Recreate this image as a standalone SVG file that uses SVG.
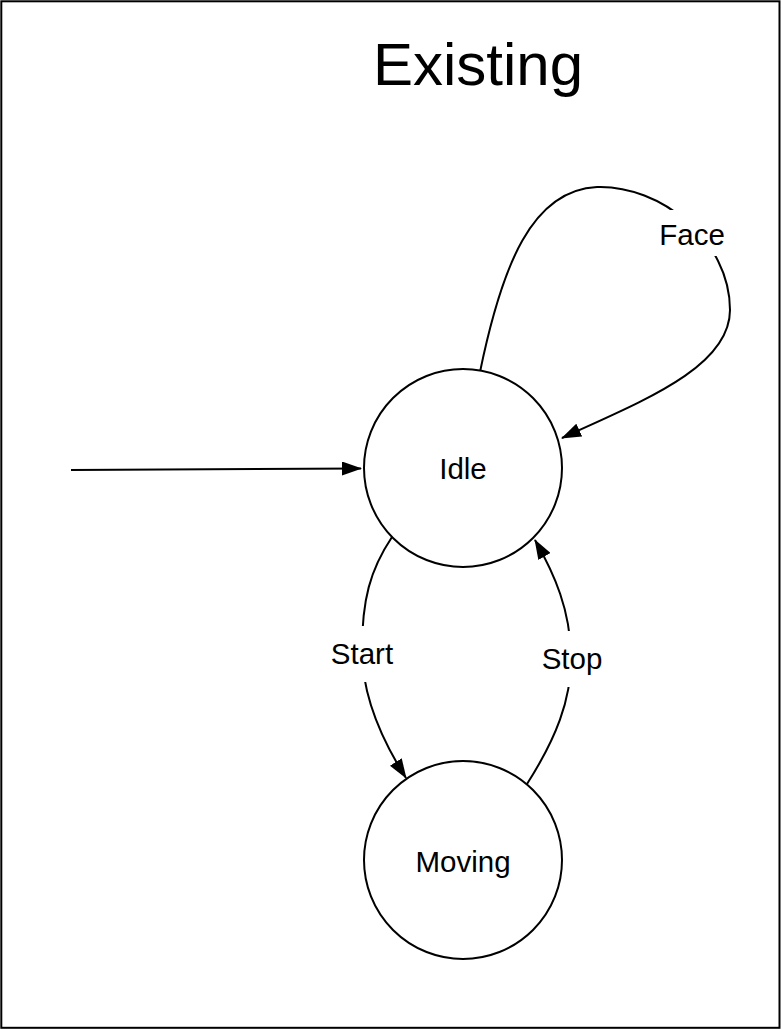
<svg xmlns="http://www.w3.org/2000/svg" width="782" height="1030" viewBox="0 0 782 1030">
  <style>
    .frame { fill: #ffffff; stroke: #000000; stroke-width: 2; }
    .state { fill: #ffffff; stroke: #000000; stroke-width: 2; }
    .edge { fill: none; stroke: #000000; stroke-width: 2; marker-end: url(#arrow); }
    .label { font-family: "Liberation Sans", Arial, Helvetica, sans-serif; font-size: 29.5px; fill: #000000; text-anchor: middle; }
    .title { font-family: "Liberation Sans", Arial, Helvetica, sans-serif; font-size: 60px; fill: #000000; text-anchor: middle; }
    .lblbg { fill: #ffffff; stroke: none; }
  </style>
  <defs>
    <marker id="arrow" markerUnits="userSpaceOnUse" markerWidth="20" markerHeight="14" refX="19" refY="7" orient="auto" viewBox="0 0 20 14">
      <path d="M0,0 L20,7 L0,14 Z" fill="#000000"/>
    </marker>
  </defs>

  <g id="frame">
    <rect class="frame" x="1.3" y="1.3" width="778.2" height="1026.5"/>
    <text class="title" x="478" y="85">Existing</text>
  </g>

  <g id="connectors">
    <path id="initial" class="edge" d="M71,470 L361,468.5"/>
    <path id="face" class="edge" d="M480,372 C 502,265 532,190 597,187 C 660,185 730,240 730,310 C 730,368 640,402 562,438"/>
    <path id="start" class="edge" d="M392,537 C 370,570 362,600 362,650 C 362,700 385,745 406,778"/>
    <path id="stop" class="edge" d="M527,784 C 555,740 572,700 571,655 C 570,610 555,575 535,540"/>
    <g id="edge-labels">
      <rect class="lblbg" x="652" y="210" width="80" height="46"/>
      <text class="label" x="692" y="245">Face</text>
      <rect class="lblbg" x="324" y="626" width="76" height="56"/>
      <text class="label" x="362" y="664">Start</text>
      <rect class="lblbg" x="534" y="631" width="76" height="56"/>
      <text class="label" x="572" y="669">Stop</text>
    </g>
  </g>

  <g id="idle">
    <circle class="state" cx="463" cy="468" r="99"/>
    <text class="label" x="463" y="479">Idle</text>
  </g>

  <g id="moving">
    <circle class="state" cx="463" cy="860" r="99"/>
    <text class="label" x="463" y="872">Moving</text>
  </g>
</svg>
